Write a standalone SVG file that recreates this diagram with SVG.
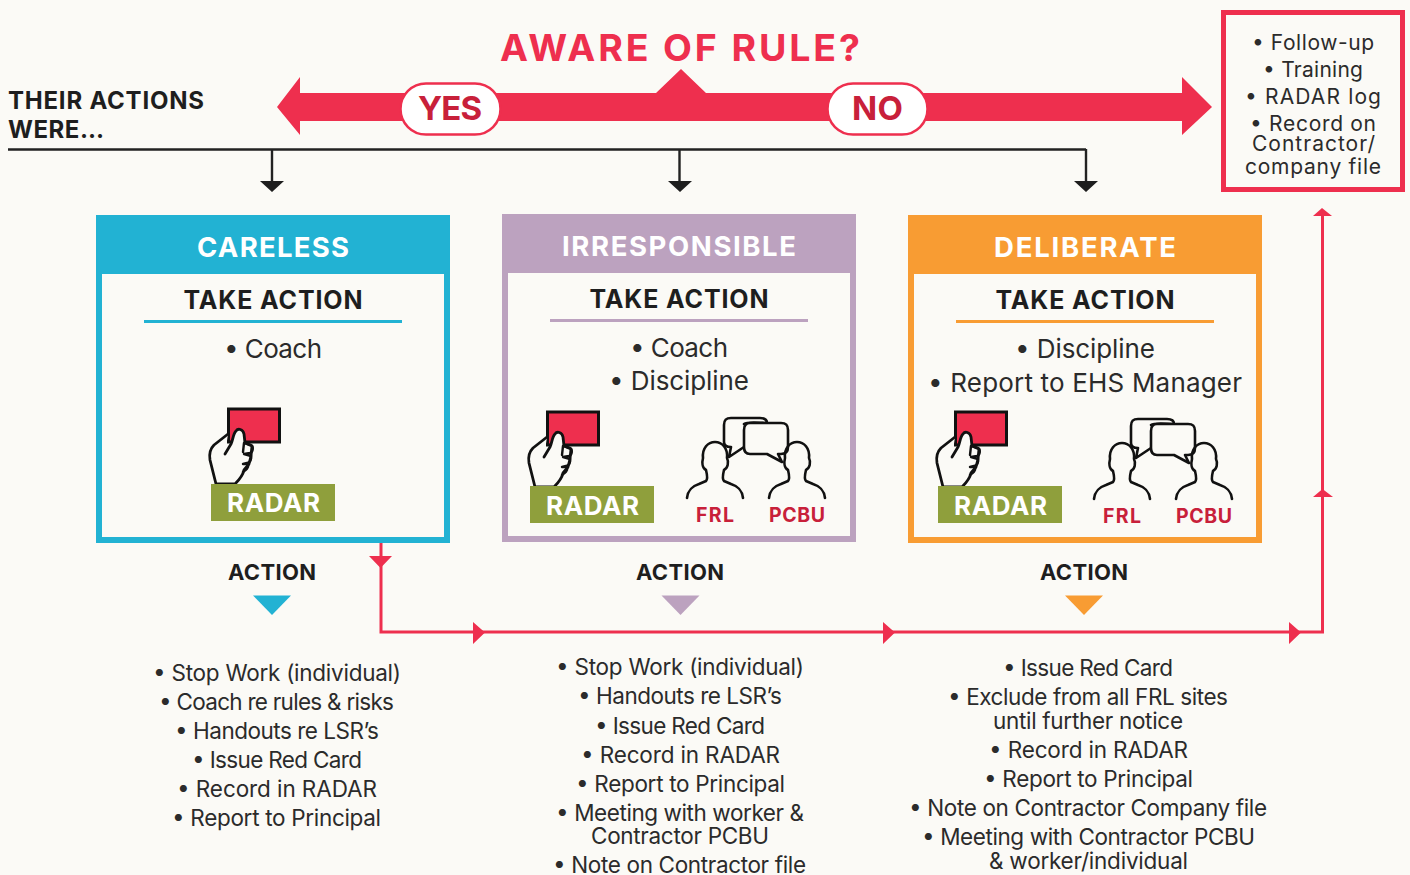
<svg xmlns="http://www.w3.org/2000/svg" xmlns:xlink="http://www.w3.org/1999/xlink" width="1410" height="875" viewBox="0 0 1410 875">
<style>
text{font-family:"Inter","Liberation Sans",sans-serif;}
.l{font-size:22.5px;fill:#2b2b2b;}
.m{font-size:26px;fill:#2b2b2b;}
.b{font-size:21px;fill:#2b2b2b;}
.h{font-size:27.5px;font-weight:700;fill:#fff;}
.t{font-size:25px;font-weight:700;fill:#1e1e1e;}
.a{font-size:22px;font-weight:700;fill:#1e1e1e;}
.r{font-size:26px;font-weight:700;fill:#fff;}
.f{font-size:19.5px;font-weight:700;fill:#c8203a;}
.o{fill:none;stroke:#111;stroke-width:2.6;stroke-linejoin:round;stroke-linecap:round;}
.c{fill:none;stroke:#ee2f4e;stroke-width:3;}
.k{fill:none;stroke:#222;stroke-width:2.4;}
</style>
<defs>
<g id="hand">
<rect x="228.500" y="409" width="51" height="33" fill="#ee2f4e" stroke="#111" stroke-width="3"/>
<path d="M228,434 L214,445 C210,449 209,454 210,460 L216,484 L235,484 C239,480 243,475 244,470 L249,464 L251,456 L252,446 L245,443 L244,434 C243,429 238,428 236,431 C233,434 233,440 231,444 L225,454" fill="#fbfaf6" stroke="#111" stroke-width="2.8" stroke-linejoin="round" stroke-linecap="round"/>
<path d="M245,443 L251,445 C254,447 253,452 250,453 L244,454 L251,456 C252,459 250,463 247,463 L243,464 L248,464 C249,468 246,470 243,472 M244,443 L243,452" fill="none" stroke="#111" stroke-width="2.4" stroke-linecap="round" stroke-linejoin="round"/>
</g>
<path id="person" class="o" d="M0,43 C1,34 6,31 12,29 L19,26 C21,24 20,19 19,15 C15,13 15,7 16,3 C15,-7 21,-13 28,-13 C35,-13 41,-7 40,3 C42,7 41,13 37,15 C36,19 35,24 37,26 L44,29 C50,31 55,34 56,43"/>
<g id="chat">
<path d="M731,447 L729,457 L744,447 M744,424 C748,421 760,423 767,423 C767,419 764,418 760,418 L731,418 C726,418 724,420 724,425 L724,442 C724,445 726,447 731,447" class="o"/>
<path d="M750,423 L781,423 C786,423 788,425 788,430 L788,447 C788,451 786,454 781,454 L778,454 L782,462 L767,454 L750,454 C746,454 744,451 744,447 L744,430 C744,425 746,423 750,423 Z" fill="#fbfaf6" stroke="#111" stroke-width="2.6" stroke-linejoin="round"/>
</g>
</defs>
<rect width="1410" height="875" fill="#fbfaf6"/>

<g id="connectors">
<path class="k" d="M8,149.500 H1086 M272,149 V182 M679.500,149 V182 M1086,149 V182"/>
<path d="M260,181 H284 L272,192 Z M668,181 H692 L680,192 Z M1074,181 H1098 L1086,192 Z" fill="#1e1e1e"/>
<path d="M300,77 L277,107 L300,135 V121 H656 H1182 V135 L1212,107 L1182,77 V93 H706 L681,69 L656,93 H300 Z" fill="#ee2f4e"/>
<path class="c" d="M381,543 V632 H1322.500 V214"/>
<path d="M369,556 H392 L380.500,568 Z M473,622 L485,632.500 L473,644 Z M883,622 L895,632.500 L883,644 Z M1289,622 L1301,632.500 L1289,644 Z M1313,497 L1322.500,489 L1333,497 Z M1313,216 L1322,208 L1332,216 Z" fill="#ee2f4e"/>
</g>

<g id="title"><text x="500" y="61" font-weight="700" fill="#ee2f4e" textLength="360" lengthAdjust="spacing" style="font-size:37.5px">AWARE OF RULE?</text></g>
<g id="their-actions">
<text x="8" y="109" class="a" style="font-size:24px" textLength="196">THEIR ACTIONS</text>
<text x="8" y="138" class="a" style="font-size:24px" textLength="96">WERE…</text>
</g>
<g id="yes">
<rect x="400.500" y="83.500" width="100" height="51" rx="25.500" fill="#fff" stroke="#ee2f4e" stroke-width="2.500"/>
<text x="418" y="120" style="font-size:33px;font-weight:700;fill:#c8203a" textLength="64">YES</text>
</g>
<g id="no">
<rect x="827.500" y="83.500" width="100" height="51" rx="25.500" fill="#fff" stroke="#ee2f4e" stroke-width="2.500"/>
<text x="852" y="120" style="font-size:33px;font-weight:700;fill:#c8203a" textLength="51">NO</text>
</g>

<g id="followup-box">
<rect x="1223.500" y="12.500" width="179" height="177" fill="#fbfaf6" stroke="#ee2f4e" stroke-width="5"/>
<text class="b" x="1252" y="50" textLength="122">• Follow-up</text>
<text class="b" x="1263" y="77" textLength="100">• Training</text>
<text class="b" x="1245" y="104" textLength="136">• RADAR log</text>
<text class="b" x="1250" y="131" textLength="126">• Record on</text>
<text class="b" x="1252" y="151" textLength="123">Contractor/</text>
<text class="b" x="1245" y="174" textLength="136">company file</text>
</g>

<g id="careless">
<rect x="99" y="218" width="348" height="322" fill="#fbfaf6" stroke="#22b2d3" stroke-width="6"/>
<rect x="96" y="215" width="354" height="59" fill="#22b2d3"/>
<text class="h" x="197" y="257" textLength="152">CARELESS</text>
<text class="t" x="183.500" y="309" textLength="179">TAKE ACTION</text>
<rect x="144" y="320" width="258" height="3" fill="#22b2d3"/>
<text class="m" x="224" y="358" textLength="98">• Coach</text>
<use xlink:href="#hand" href="#hand"/>
<rect x="211" y="484" width="124" height="37" fill="#8f9f3c"/>
<text class="r" x="227" y="512" textLength="93">RADAR</text>
</g>

<g id="irresponsible">
<rect x="505" y="217" width="348" height="322" fill="#fbfaf6" stroke="#bca2bf" stroke-width="6"/>
<rect x="502" y="214" width="354" height="59" fill="#bca2bf"/>
<text class="h" x="562" y="256" textLength="234">IRRESPONSIBLE</text>
<text class="t" x="589.500" y="308" textLength="179">TAKE ACTION</text>
<rect x="550" y="319" width="258" height="3" fill="#bca2bf"/>
<text class="m" x="630" y="357" textLength="98">• Coach</text>
<text class="m" x="609" y="390" textLength="140">• Discipline</text>
<use xlink:href="#hand" href="#hand" transform="translate(319,3)"/>
<rect x="530" y="486" width="124" height="37" fill="#8f9f3c"/>
<text class="r" x="546" y="515" textLength="93">RADAR</text>
<use xlink:href="#chat" href="#chat"/>
<use xlink:href="#person" href="#person" transform="translate(687,455)"/>
<use xlink:href="#person" href="#person" transform="translate(769,455)"/>
<text class="f" x="696" y="522" textLength="38">FRL</text>
<text class="f" x="769" y="522" textLength="56">PCBU</text>
</g>

<g id="deliberate">
<rect x="911" y="218" width="348" height="322" fill="#fbfaf6" stroke="#f89c33" stroke-width="6"/>
<rect x="908" y="215" width="354" height="59" fill="#f89c33"/>
<text class="h" x="994" y="257" textLength="182">DELIBERATE</text>
<text class="t" x="995.500" y="309" textLength="179">TAKE ACTION</text>
<rect x="956" y="320" width="258" height="3" fill="#f89c33"/>
<text class="m" x="1015" y="358" textLength="140">• Discipline</text>
<text class="m" x="928" y="392" textLength="314">• Report to EHS Manager</text>
<use xlink:href="#hand" href="#hand" transform="translate(727,3)"/>
<rect x="938" y="486" width="124" height="37" fill="#8f9f3c"/>
<text class="r" x="954" y="515" textLength="93">RADAR</text>
<use xlink:href="#chat" href="#chat" transform="translate(407,1)"/>
<use xlink:href="#person" href="#person" transform="translate(1094,456)"/>
<use xlink:href="#person" href="#person" transform="translate(1176,456)"/>
<text class="f" x="1103" y="523" textLength="38">FRL</text>
<text class="f" x="1176" y="523" textLength="56">PCBU</text>
</g>

<g id="action-careless">
<text class="a" x="228" y="580" textLength="88">ACTION</text>
<path d="M253,595.500 H291 L272,615 Z" fill="#22b2d3"/>
<text class="l" x="153" y="680.500" textLength="248">• Stop Work (individual)</text>
<text class="l" x="159" y="709.500" textLength="235">• Coach re rules &amp; risks</text>
<text class="l" x="175" y="738.500" textLength="204">• Handouts re LSR’s</text>
<text class="l" x="192" y="767.500" textLength="170">• Issue Red Card</text>
<text class="l" x="177" y="796.500" textLength="200">• Record in RADAR</text>
<text class="l" x="172" y="825.500" textLength="209">• Report to Principal</text>
</g>

<g id="action-irresponsible">
<text class="a" x="636" y="580" textLength="88">ACTION</text>
<path d="M661.500,595.500 H699.500 L680.500,615 Z" fill="#bca2bf"/>
<text class="l" x="556" y="674.500" textLength="248">• Stop Work (individual)</text>
<text class="l" x="578" y="703.500" textLength="204">• Handouts re LSR’s</text>
<text class="l" x="595" y="733.500" textLength="170">• Issue Red Card</text>
<text class="l" x="581" y="762.500" textLength="199">• Record in RADAR</text>
<text class="l" x="576" y="791.500" textLength="209">• Report to Principal</text>
<text class="l" x="556" y="820.500" textLength="248">• Meeting with worker &amp;</text>
<text class="l" x="591" y="843.500" textLength="178">Contractor PCBU</text>
<text class="l" x="553" y="872.500" textLength="253">• Note on Contractor file</text>
</g>

<g id="action-deliberate">
<text class="a" x="1040" y="580" textLength="88">ACTION</text>
<path d="M1065,595.500 H1103 L1084,615 Z" fill="#f89c33"/>
<text class="l" x="1003" y="675.500" textLength="170">• Issue Red Card</text>
<text class="l" x="948" y="704.500" textLength="280">• Exclude from all FRL sites</text>
<text class="l" x="993" y="728.500" textLength="190">until further notice</text>
<text class="l" x="989" y="757.500" textLength="199">• Record in RADAR</text>
<text class="l" x="984" y="786.500" textLength="209">• Report to Principal</text>
<text class="l" x="909" y="815.500" textLength="358">• Note on Contractor Company file</text>
<text class="l" x="922" y="844.500" textLength="333">• Meeting with Contractor PCBU</text>
<text class="l" x="989" y="868.500" textLength="199">&amp; worker/individual</text>
</g>
</svg>
